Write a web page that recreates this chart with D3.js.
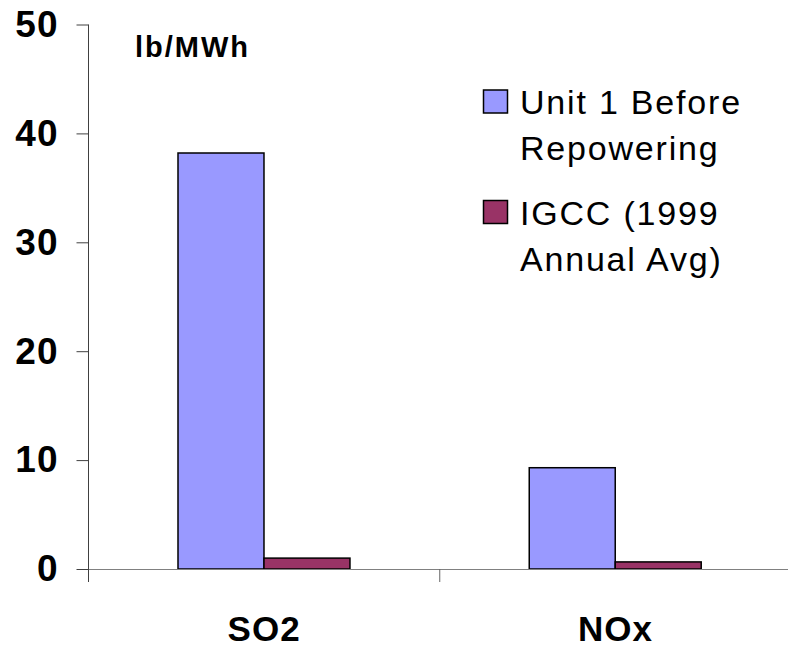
<!DOCTYPE html>
<html>
<head>
<meta charset="utf-8">
<script src="https://cdn.jsdelivr.net/npm/d3@7/dist/d3.min.js"></script>
<style>
  html, body { margin: 0; padding: 0; background: #fff; }
  svg { display: block; font-family: "Liberation Sans", Arial, sans-serif; }
</style>
</head>
<body>
<script>
// ---------------------- DATA ----------------------
const categories = ["SO2", "NOx"];
const seriesNames = ["Unit 1 Before Repowering", "IGCC (1999 Annual Avg)"];
const legendLines = [["Unit 1 Before", "Repowering"], ["IGCC (1999", "Annual Avg)"]];
const unit1Values = [38.2, 9.3];
const igccValues = [1.0, 0.65];
const yTicks = [0, 10, 20, 30, 40, 50];
const unitLabel = "lb/MWh";

const colors = ["#9999ff", "#993366"];

// ---------------------- CHART ----------------------
const width = 788, height = 648;
const svg = d3.select("body").append("svg")
    .attr("width", width)
    .attr("height", height);

const y = d3.scaleLinear().domain([0, 50]).range([569, 24.5]);
const x = d3.scaleBand().domain(categories).range([88.5, 791]);
const bw = x.bandwidth();
const x1 = d3.scaleBand().domain(seriesNames).range([bw * 0.2548, bw * 0.7444]);

const rows = categories.map((c, i) => ({
    cat: c,
    vals: [unit1Values[i], igccValues[i]]
}));

// bars
const groups = svg.selectAll(".cat")
    .data(rows)
    .enter().append("g")
    .attr("class", "cat")
    .attr("transform", d => `translate(${x(d.cat)},0)`);

groups.selectAll("rect")
    .data(d => d.vals.map((v, j) => ({ name: seriesNames[j], v, j })))
    .enter().append("rect")
    .attr("x", d => x1(d.name))
    .attr("y", d => y(d.v))
    .attr("width", x1.bandwidth())
    .attr("height", d => y(0) - y(d.v))
    .attr("fill", d => colors[d.j])
    .attr("stroke", "#000")
    .attr("stroke-width", 1.5);

// y axis
const yAxis = svg.append("g")
    .attr("transform", "translate(88.5,0)")
    .call(d3.axisLeft(y).tickValues(yTicks).tickSize(12).tickPadding(18).tickFormat(d3.format("d")));
yAxis.select(".domain").attr("stroke", "#404040").attr("d", `M0,${y(50)}V${y(0) + 13}`);
yAxis.selectAll(".tick line").attr("stroke", "#404040");
yAxis.selectAll(".tick text")
    .attr("font-family", "Liberation Sans, Arial, sans-serif")
    .attr("font-size", 37)
    .attr("font-weight", "bold")
    .attr("letter-spacing", 1)
    .attr("fill", "#000");

// x axis
const xAxis = svg.append("g")
    .attr("transform", `translate(0,${y(0)})`)
    .call(d3.axisBottom(x).tickSize(0).tickFormat(""));
xAxis.select(".domain").attr("stroke", "#808080").attr("stroke-width", 1.2);
// category dividers
svg.selectAll(".xdiv")
    .data(categories.slice(1))
    .enter().append("line")
    .attr("x1", d => x(d)).attr("x2", d => x(d))
    .attr("y1", y(0)).attr("y2", y(0) + 13)
    .attr("stroke", "#666");

// category labels
svg.selectAll(".catlabel")
    .data(categories)
    .enter().append("text")
    .attr("x", d => x(d) + bw / 2)
    .attr("y", 641)
    .attr("text-anchor", "middle")
    .attr("font-size", 35)
    .attr("font-weight", "bold")
    .attr("letter-spacing", 1)
    .text(d => d);

// unit label
svg.append("text")
    .attr("x", 135)
    .attr("y", 57)
    .attr("font-size", 29)
    .attr("font-weight", "bold")
    .attr("letter-spacing", 2)
    .text(unitLabel);

// legend
const legend = svg.selectAll(".legend")
    .data(seriesNames)
    .enter().append("g")
    .attr("class", "legend")
    .attr("transform", (d, i) => `translate(483.5,${90 + i * 110.5})`);

legend.append("rect")
    .attr("width", 24)
    .attr("height", 23)
    .attr("fill", (d, i) => colors[i])
    .attr("stroke", "#000")
    .attr("stroke-width", 1.5);

legend.append("text")
    .attr("x", 36.5)
    .attr("y", 24)
    .attr("font-size", 34)
    .attr("letter-spacing", 1.8)
    .selectAll("tspan")
    .data((d, i) => legendLines[i])
    .enter().append("tspan")
    .attr("x", 36.5)
    .attr("dy", (d, k) => k === 0 ? 0 : 46)
    .text(d => d);
</script>
</body>
</html>
